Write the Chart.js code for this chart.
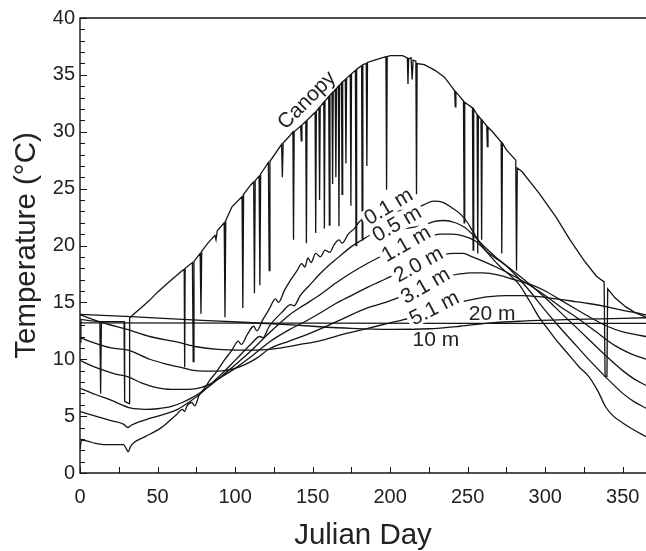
<!DOCTYPE html>
<html>
<head>
<meta charset="utf-8">
<script src="https://cdn.jsdelivr.net/npm/chart.js@4.4.1/dist/chart.umd.min.js"></script>
<style>
  html, body { margin: 0; padding: 0; background: #fff; }
  #chart { display: block; }
</style>
</head>
<body>
<canvas id="chart" width="646" height="551"></canvas>
<script>
// [julian day, temperature °C]
const canopy = [
  [0,11.5],[0.6,13.5],[6,13.4],[12.8,13.3],[13.3,7.0],[13.8,13.3],[20,13.3],[28.4,13.3],[28.8,6.3],[31.6,6.1],[32,13.6],[34,13.9],
  [40,14.6],[45,15.2],[50,15.9],[55,16.5],[60,17.1],[66,17.8],[67.2,17.9],[67.5,9.3],[67.8,18.0],[72.5,18.5],[73,9.8],[73.5,18.6],
  [77.5,19.3],[78,14.0],[78.5,19.5],[83,20.3],[87,20.9],[87.7,20.5],[88.5,21.3],[93,22.0],[93.5,13.7],[94,22.2],[98,23.4],
  [104.5,24.3],[105,14.5],[105.5,24.5],[110,25.3],[112,25.6],[112.5,15.8],[113,25.7],[115.5,26.1],[116,16.5],[116.5,26.3],
  [121.5,27.3],[122,17.8],[122.5,27.4],[127,28.3],[130,28.9],[130.5,26.0],[131,29.0],[135,29.6],[137.3,30.0],[137.7,20.5],[138.1,30.0],
  [142.3,30.5],[142.7,29.2],[143.1,30.6],[145.6,30.9],[146,20.2],[146.4,31.0],[150,31.5],[151.6,31.7],[152,21.1],[152.4,31.8],
  [154.1,32.1],[154.5,24.0],[154.9,32.2],[157.2,32.6],[157.6,21.5],[158,32.7],[160.4,33.1],[160.8,21.8],[161.2,33.2],
  [162.5,33.4],[162.9,25.4],[163.3,33.5],[164.6,33.7],[165,26.0],[165.4,33.8],[166.6,34.0],[167,21.7],[167.4,34.1],
  [168.6,34.3],[169,24.5],[169.4,34.4],[171.1,34.6],[171.5,27.2],[171.9,34.7],[174.3,35.0],[174.7,23.5],[175.1,35.1],
  [177.6,35.4],[178,20.0],[178.4,35.5],[181.6,35.8],[182,20.5],[182.4,35.9],[184.6,36.0],[185,27.0],[185.4,36.1],
  [190,36.3],[197.3,36.6],[197.7,24.9],[198.1,36.6],[200,36.7],[208,36.7],[211.1,36.5],[211.5,34.2],[211.9,36.4],
  [213.5,36.5],[214.2,34.6],[214.8,36.3],[216.6,36.2],[217,24.5],[217.4,36.0],[222,35.9],[229,35.4],[235,34.8],[240,33.9],
  [241.6,33.6],[242,32.2],[242.4,33.5],[247.3,32.7],[247.7,22.0],[248.1,32.6],[253.1,32.1],[253.5,19.6],[253.9,32.0],
  [256.1,31.5],[256.5,19.3],[256.9,31.4],[258.6,31.1],[259,20.5],[259.4,31.0],[262.3,30.5],[262.7,28.7],[263.1,30.4],
  [266,30.0],[271.6,29.1],[272,19.3],[272.4,29.0],[275,28.4],[281,27.5],[281.5,17.8],[282,26.8],
  [285,26.5],[296,24.6],[307,22.5],[316,20.5],[325,18.7],[333,17.3],[338,16.8],[338.6,8.5],[339.8,8.5],[340.3,16.2],
  [345,15.4],[352,14.6],[358,14.1],[365,13.7]
];

const depth01 = [
  [0,2.1],[1,2.9],[5,2.8],[10,2.6],[15,2.5],[28,2.5],[30,2.1],[31,1.85],[32.5,2.3],[35,2.7],[42,3.2],[51.5,3.9],[57,4.5],
  [62,5.1],[66,5.6],[67.5,5.4],[69,5.9],[72,6.2],[74,5.9],[77,6.9],[80,7.4],[84,8.2],[88,8.9],[93,9.9],[98,10.8],[102,11.6],
  [104,11.3],[108,12.2],[112,12.9],[114,12.5],[118,13.5],[122,14.4],[126,15.3],[128,15.0],[132,16.1],[136,17.0],[140,17.8],
  [143,18.4],[145,18.1],[147,18.9],[149,18.5],[152,19.3],[155,19.0],[158,19.6],[161,19.4],[164,20.1],[167,20.5],[169,20.2],
  [173,21.0],[177,21.5],[181,22.2],
  [217,23.3],[222,23.6],[228,23.9],[234,23.8],[240,23.3],[245,22.8],[250,22.0],[253,21.3],[258,20.2],[265,19.0],[272,18.0],
  [278,17.3],[283,16.6],[290,15.1],[296,13.7],[302,12.6],[307,11.7],[312,10.9],[317,10.1],[322,9.3],[328,8.5],[334,7.2],
  [339,5.8],[344,5.0],[350,4.4],[357,3.8],[365,3.2]
];

const depth05 = [
  [0,5.4],[5,5.2],[10,5.0],[20,4.6],[28,4.3],[31,4.0],[33,4.2],[38,4.5],[45,4.8],[55,5.2],[63,5.6],[70,6.2],[78,7.0],
  [85,7.9],[92,8.8],[100,9.9],[110,11.3],[116,12.0],[118,11.9],[122,12.9],[130,14.1],[136,14.8],[138,14.7],[142,15.6],
  [148,16.5],[154,17.4],[160,18.2],[167,19.0],[175,19.9],[182,20.5],[187,20.9],
  [222,21.8],[228,22.1],[235,22.2],[242,22.0],[248,21.6],[253,21.0],[260,20.0],[268,19.0],[275,18.2],[283,17.1],[290,16.0],
  [300,14.3],[310,12.7],[320,11.2],[330,9.7],[340,8.3],[350,7.0],[357,6.3],[365,5.7]
];

const depth11 = [
  [0,7.45],[10,6.9],[20,6.4],[33,5.7],[42,5.6],[50,5.65],[59,5.85],[66,6.2],[72,6.6],[78,7.1],[85,7.8],[92,8.6],[100,9.5],
  [110,10.7],[122,12.3],[135,13.9],[145,14.8],[154,15.6],[165,16.7],[175,17.6],[185,18.4],[195,19.1],
  [226,20.8],[232,21.0],[240,21.0],[248,20.8],[255,20.4],[262,19.5],[270,18.7],[280,17.7],[290,16.6],[300,15.4],[310,14.1],
  [320,12.8],[330,11.5],[340,10.2],[350,9.0],[357,8.3],[365,7.7]
];

const depth20 = [
  [0,9.9],[8,9.4],[15,9.05],[23,8.7],[31,8.45],[40,7.9],[48,7.55],[59,7.35],[70,7.35],[78,7.5],[85,7.9],[92,8.5],[100,9.2],
  [110,10.2],[122,11.5],[135,12.6],[145,13.3],[154,14.0],[165,14.9],[175,15.6],[185,16.3],[193,16.8],[201,17.3],
  [235,19.2],[241,19.3],[247,19.3],[253,19.0],[262,18.5],[270,18.0],[280,17.3],[290,16.5],[300,15.6],[310,14.6],[320,13.7],
  [332,12.5],[345,11.2],[355,10.5],[365,10.0]
];

const depth31 = [
  [0,11.9],[10,11.4],[20,11.0],[31,10.8],[45,10.0],[55,9.6],[63,9.35],[72,9.05],[80,8.96],[89,8.96],[100,9.2],[106,9.5],
  [114,10.1],[122,10.9],[135,11.6],[145,12.1],[154,12.6],[170,13.6],[185,14.5],[197,15.0],[207,15.5],
  [238,17.3],[245,17.5],[252,17.6],[260,17.6],[270,17.4],[280,17.0],[290,16.6],[300,16.0],[310,15.2],[320,14.4],[330,13.6],
  [340,12.9],[350,12.4],[357,12.2],[365,12.0]
];

const depth51 = [
  [0,13.9],[15,13.2],[31,12.6],[45,12.0],[63,11.5],[75,11.1],[89,10.86],[105,10.8],[120,10.85],[130,11.0],[142,11.3],
  [154,11.6],[170,12.2],[185,12.7],[200,13.2],[212,13.6],
  [245,15.0],[255,15.3],[264,15.5],[275,15.6],[285,15.6],[296,15.5],[307,15.3],[318,15.1],[328,14.9],[340,14.6],[350,14.3],
  [358,14.1],[365,13.9]
];

const depth10m = [
  [0,13.95],[33,13.75],[60,13.55],[90,13.35],[127,13.1],[150,12.9],[175,12.72],[200,12.63],[225,12.68],[245,12.9],
  [265,13.2],[285,13.35],[320,13.5],[365,13.65]
];

const depth20m = [[0,13.2],[120,13.18],[250,13.16],[365,13.15]];

const xTicks = [0, 50, 100, 150, 200, 250, 300, 350];
const yTicks = [0, 5, 10, 15, 20, 25, 30, 35, 40];

// inline curve labels: position in data units, rotation in degrees
const curveLabels = [
  { text: 'Canopy', day: 145.9, temp: 32.8, angle: -45, box: false },
  { text: '0.1 m', day: 198.8, temp: 23.45, angle: -31, box: true },
  { text: '0.5 m', day: 204.2, temp: 21.93, angle: -30, box: true },
  { text: '1.1 m', day: 210.2, temp: 20.17, angle: -30, box: true },
  { text: '2.0 m', day: 218.1, temp: 18.36, angle: -29, box: true },
  { text: '3.1 m', day: 222.6, temp: 16.51, angle: -30, box: true },
  { text: '5.1 m', day: 228.4, temp: 14.53, angle: -27, box: true },
  { text: '20 m', day: 265.8, temp: 14.05, angle: 0, box: false },
  { text: '10 m', day: 229.5, temp: 11.77, angle: 0, box: false }
];

const inkColor = '#222';
const lineColor = '#141414';
const fontFamily = '"Liberation Sans", Arial, Helvetica, sans-serif';

Chart.defaults.font.family = fontFamily;
Chart.defaults.color = inkColor;

const toPoints = pairs => pairs.map(p => ({ x: p[0], y: p[1] }));

function series(label, pairs, smooth) {
  return {
    label: label,
    data: toPoints(pairs),
    borderColor: lineColor,
    borderWidth: 1.3,
    pointRadius: 0,
    fill: false,
    cubicInterpolationMode: smooth ? 'monotone' : 'default',
    tension: 0
  };
}

// left, top and bottom frame lines plus the small inward tick marks
const frameAndTicks = {
  id: 'frameAndTicks',
  afterDraw(chart) {
    const { ctx, chartArea: a, scales: { x, y } } = chart;
    ctx.save();
    ctx.strokeStyle = lineColor;
    ctx.lineWidth = 1.4;
    ctx.beginPath();
    ctx.moveTo(a.right, a.top);
    ctx.lineTo(a.left, a.top);
    ctx.lineTo(a.left, a.bottom);
    ctx.lineTo(a.right, a.bottom);
    ctx.stroke();
    ctx.lineWidth = 1;
    ctx.beginPath();
    for (let v = 0; v <= 40; v++) {
      const py = Math.round(y.getPixelForValue(v)) + 0.5;
      const len = v % 5 === 0 ? 7 : 5;
      ctx.moveTo(a.left, py);
      ctx.lineTo(a.left + len, py);
    }
    for (let d = 0; d <= 365; d += 25) {
      const px = Math.round(x.getPixelForValue(d)) + 0.5;
      ctx.moveTo(px, a.bottom);
      ctx.lineTo(px, a.bottom - 6);
    }
    ctx.stroke();
    ctx.restore();
  }
};

const inlineLabels = {
  id: 'inlineLabels',
  afterDatasetsDraw(chart) {
    const { ctx, scales: { x, y } } = chart;
    ctx.save();
    ctx.font = '21px ' + fontFamily;
    ctx.textAlign = 'center';
    ctx.textBaseline = 'middle';
    curveLabels.forEach(l => {
      ctx.save();
      ctx.translate(x.getPixelForValue(l.day), y.getPixelForValue(l.temp));
      ctx.rotate(l.angle * Math.PI / 180);
      if (l.box) {
        const w = ctx.measureText(l.text).width;
        ctx.fillStyle = '#fff';
        ctx.fillRect(-w / 2 - 3, -9, w + 6, 18);
      }
      ctx.fillStyle = inkColor;
      ctx.fillText(l.text, 0, 1);
      ctx.restore();
    });
    ctx.restore();
  }
};

new Chart(document.getElementById('chart'), {
  type: 'line',
  data: {
    datasets: [
      series('Canopy', canopy, false),
      series('0.1 m', depth01, true),
      series('0.5 m', depth05, true),
      series('1.1 m', depth11, true),
      series('2.0 m', depth20, true),
      series('3.1 m', depth31, true),
      series('5.1 m', depth51, true),
      series('10 m', depth10m, true),
      series('20 m', depth20m, true)
    ]
  },
  options: {
    responsive: false,
    animation: false,
    layout: { padding: { top: 18, right: 0, bottom: 0, left: 0 } },
    plugins: { legend: { display: false }, tooltip: { enabled: false } },
    scales: {
      x: {
        type: 'linear',
        min: 0,
        max: 365,
        grid: { display: false, drawTicks: false },
        border: { display: false },
        afterBuildTicks: s => { s.ticks = xTicks.map(v => ({ value: v })); },
        afterFit: s => { s.height = 78; s.paddingLeft = 0; s.paddingRight = 0; },
        ticks: { font: { size: 20 }, padding: 12, maxRotation: 0, autoSkip: false, color: inkColor },
        title: {
          display: true,
          text: 'Julian Day',
          font: { size: 29.5, lineHeight: 1 },
          padding: { top: 0, bottom: 0 },
          color: inkColor
        }
      },
      y: {
        min: 0,
        max: 40,
        grid: { display: false, drawTicks: false },
        border: { display: false },
        afterBuildTicks: s => { s.ticks = yTicks.map(v => ({ value: v })); },
        afterFit: s => { s.width = 80; },
        ticks: { font: { size: 20 }, padding: 5, color: inkColor },
        title: {
          display: true,
          text: 'Temperature (°C)',
          font: { size: 29.5, lineHeight: 1 },
          padding: { top: 12, bottom: 0 },
          color: inkColor
        }
      }
    }
  },
  plugins: [frameAndTicks, inlineLabels]
});
</script>
</body>
</html>
